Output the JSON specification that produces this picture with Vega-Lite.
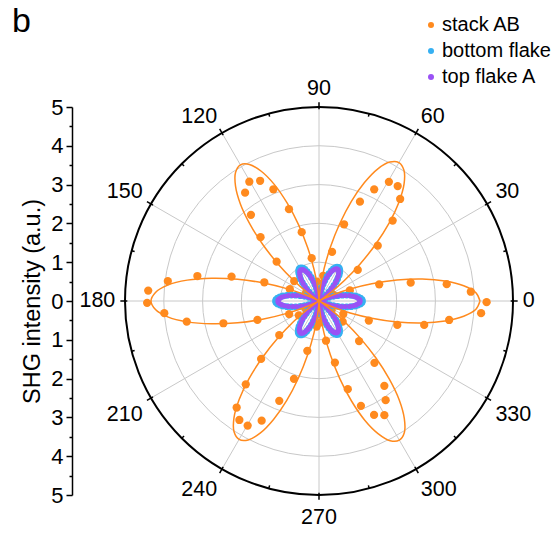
{
 "$schema": "https://vega.github.io/schema/vega-lite/v6.json",
 "width": 388, "height": 388,
 "autosize": {"type": "none"},
 "padding": {"left": 125, "top": 107, "right": 40, "bottom": 42},
 "title": {"text": "b", "anchor": "start", "frame": "group", "fontSize": 34, "fontWeight": "normal", "font": "Liberation Sans", "color": "black", "dx": -113, "offset": 0, "dy": 51, "baseline": "alphabetic"},
 "resolve": {"axis": {"y": "independent"}},
 "config": {"view": {"stroke": null}, "font": "Liberation Sans",
  "axisY": {"tickColor": "black", "tickWidth": 1.5, "domainColor": "black", "domainWidth": 1.5, "labelFontSize": 22, "labelColor": "black", "labelPadding": 3, "labelFont": "Liberation Sans", "labelFlush": false, "labelOverlap": false, "labelBound": false, "titleFontSize": 23.5, "titleFont": "Liberation Sans", "titleFontWeight": "normal", "titleColor": "black", "titlePadding": 6, "grid": false}},
 "datasets": {
  "orangePts": [{"a":331.9,"r":0.71},{"a":338.5,"r":1.38},{"a":343.0,"r":2.11},{"a":347.2,"r":2.78},{"a":351.7,"r":3.39},{"a":355.7,"r":4.19},{"a":359.6,"r":4.32},{"a":3.5,"r":3.92},{"a":7.5,"r":3.32},{"a":11.3,"r":2.41},{"a":15.5,"r":1.61},{"a":18.8,"r":0.84},
   {"a":38.7,"r":1.28},{"a":43.3,"r":2.08},{"a":47.5,"r":2.81},{"a":51.5,"r":3.36},{"a":55.6,"r":3.59},{"a":59.6,"r":3.56},{"a":63.7,"r":3.21},{"a":67.6,"r":2.77},{"a":71.9,"r":2.08},{"a":75.1,"r":1.31},{"a":80.4,"r":0.66},
   {"a":99.7,"r":1.12},{"a":104.1,"r":1.83},{"a":108.1,"r":2.49},{"a":112.2,"r":3.11},{"a":116.1,"r":3.45},{"a":120.3,"r":3.56},{"a":124.3,"r":3.38},{"a":128.3,"r":2.83},{"a":132.5,"r":2.23},{"a":137.1,"r":1.49},{"a":141.3,"r":0.82},
   {"a":158.0,"r":0.81},{"a":161.1,"r":1.49},{"a":164.4,"r":2.34},{"a":168.4,"r":3.20},{"a":172.5,"r":3.93},{"a":176.5,"r":4.41},{"a":180.6,"r":4.43},{"a":184.5,"r":4.00},{"a":188.9,"r":3.45},{"a":193.1,"r":2.53},{"a":197.1,"r":1.66},{"a":203.6,"r":0.84},
   {"a":215.6,"r":0.64},{"a":220.6,"r":1.35},{"a":225.0,"r":2.11},{"a":228.7,"r":2.86},{"a":232.3,"r":3.47},{"a":236.2,"r":3.69},{"a":240.2,"r":3.70},{"a":244.4,"r":3.42},{"a":248.3,"r":2.77},{"a":252.2,"r":2.11},{"a":256.8,"r":1.32},{"a":264.9,"r":0.66},
   {"a":280.0,"r":1.04},{"a":284.5,"r":1.64},{"a":288.1,"r":2.39},{"a":291.8,"r":2.91},{"a":295.8,"r":3.26},{"a":299.8,"r":3.39},{"a":303.9,"r":3.08},{"a":307.6,"r":2.76},{"a":311.9,"r":2.14},{"a":315.0,"r":1.46},{"a":318.9,"r":0.81},
   {"a":23.6,"r":0.4},{"a":33.6,"r":0.35},{"a":85,"r":0.3},{"a":95.6,"r":0.5},{"a":146,"r":0.4},{"a":152,"r":0.3},{"a":208,"r":0.4},{"a":268.6,"r":0.35},{"a":275,"r":0.55},{"a":325,"r":0.4}],
  "fit": [{"a":0,"r":4.15},{"a":3,"r":4.05},{"a":6,"r":3.75},{"a":9,"r":3.29},{"a":12,"r":2.72},{"a":15,"r":2.08},{"a":18,"r":1.43},{"a":21,"r":0.86},{"a":24,"r":0.40},{"a":27,"r":0.10},{"a":30,"r":0},
   {"a":33,"r":0.10},{"a":36,"r":0.39},{"a":39,"r":0.85},{"a":42,"r":1.42},{"a":45,"r":2.06},{"a":48,"r":2.70},{"a":51,"r":3.27},{"a":54,"r":3.73},{"a":57,"r":4.02},{"a":60,"r":4.12},{"a":63,"r":4.02},{"a":66,"r":3.73},{"a":69,"r":3.27},{"a":72,"r":2.70},{"a":75,"r":2.06},{"a":78,"r":1.42},{"a":81,"r":0.85},{"a":84,"r":0.39},{"a":87,"r":0.10},{"a":90,"r":0},
   {"a":93,"r":0.10},{"a":96,"r":0.39},{"a":99,"r":0.83},{"a":102,"r":1.40},{"a":105,"r":2.03},{"a":108,"r":2.65},{"a":111,"r":3.22},{"a":114,"r":3.66},{"a":117,"r":3.95},{"a":120,"r":4.05},{"a":123,"r":3.95},{"a":126,"r":3.66},{"a":129,"r":3.22},{"a":132,"r":2.65},{"a":135,"r":2.03},{"a":138,"r":1.40},{"a":141,"r":0.83},{"a":144,"r":0.39},{"a":147,"r":0.10},{"a":150,"r":0},
   {"a":153,"r":0.11},{"a":156,"r":0.41},{"a":159,"r":0.89},{"a":162,"r":1.50},{"a":165,"r":2.17},{"a":168,"r":2.83},{"a":171,"r":3.44},{"a":174,"r":3.92},{"a":177,"r":4.22},{"a":180,"r":4.33},{"a":183,"r":4.22},{"a":186,"r":3.92},{"a":189,"r":3.44},{"a":192,"r":2.83},{"a":195,"r":2.17},{"a":198,"r":1.50},{"a":201,"r":0.89},{"a":204,"r":0.41},{"a":207,"r":0.11},{"a":210,"r":0},
   {"a":213,"r":0.10},{"a":216,"r":0.39},{"a":219,"r":0.85},{"a":222,"r":1.42},{"a":225,"r":2.06},{"a":228,"r":2.70},{"a":231,"r":3.27},{"a":234,"r":3.73},{"a":237,"r":4.02},{"a":240,"r":4.12},{"a":243,"r":4.02},{"a":246,"r":3.73},{"a":249,"r":3.27},{"a":252,"r":2.70},{"a":255,"r":2.06},{"a":258,"r":1.42},{"a":261,"r":0.85},{"a":264,"r":0.39},{"a":267,"r":0.10},{"a":270,"r":0},
   {"a":273,"r":0.10},{"a":276,"r":0.40},{"a":279,"r":0.85},{"a":282,"r":1.43},{"a":285,"r":2.07},{"a":288,"r":2.71},{"a":291,"r":3.29},{"a":294,"r":3.74},{"a":297,"r":4.04},{"a":300,"r":4.14},{"a":303,"r":4.04},{"a":306,"r":3.74},{"a":309,"r":3.29},{"a":312,"r":2.71},{"a":315,"r":2.07},{"a":318,"r":1.43},{"a":321,"r":0.85},{"a":324,"r":0.40},{"a":327,"r":0.10},{"a":330,"r":0},
   {"a":333,"r":0.10},{"a":336,"r":0.40},{"a":339,"r":0.86},{"a":342,"r":1.43},{"a":345,"r":2.08},{"a":348,"r":2.72},{"a":351,"r":3.29},{"a":354,"r":3.75},{"a":357,"r":4.05},{"a":360,"r":4.15}],
  "blue": [{"a":0,"r":1.12},{"a":2,"r":1.11},{"a":4,"r":1.07},{"a":6,"r":1.01},{"a":8,"r":0.94},{"a":10,"r":0.84},{"a":12,"r":0.73},{"a":14,"r":0.62},{"a":16,"r":0.50},{"a":18,"r":0.39},{"a":20,"r":0.28},{"a":22,"r":0.18},{"a":24,"r":0.11},{"a":26,"r":0.05},{"a":28,"r":0.01},{"a":30,"r":0},
   {"a":32,"r":0.01},{"a":34,"r":0.04},{"a":36,"r":0.10},{"a":38,"r":0.17},{"a":40,"r":0.25},{"a":42,"r":0.35},{"a":44,"r":0.45},{"a":46,"r":0.55},{"a":48,"r":0.66},{"a":50,"r":0.75},{"a":52,"r":0.84},{"a":54,"r":0.91},{"a":56,"r":0.96},{"a":58,"r":0.99},{"a":60,"r":1.00},{"a":62,"r":0.99},{"a":64,"r":0.96},{"a":66,"r":0.91},{"a":68,"r":0.84},{"a":70,"r":0.75},{"a":72,"r":0.66},{"a":74,"r":0.55},{"a":76,"r":0.45},{"a":78,"r":0.35},{"a":80,"r":0.25},{"a":82,"r":0.17},{"a":84,"r":0.10},{"a":86,"r":0.04},{"a":88,"r":0.01},{"a":90,"r":0},
   {"a":92,"r":0.01},{"a":94,"r":0.04},{"a":96,"r":0.09},{"a":98,"r":0.16},{"a":100,"r":0.25},{"a":102,"r":0.34},{"a":104,"r":0.44},{"a":106,"r":0.54},{"a":108,"r":0.64},{"a":110,"r":0.74},{"a":112,"r":0.82},{"a":114,"r":0.89},{"a":116,"r":0.94},{"a":118,"r":0.97},{"a":120,"r":0.98},{"a":122,"r":0.97},{"a":124,"r":0.94},{"a":126,"r":0.89},{"a":128,"r":0.82},{"a":130,"r":0.74},{"a":132,"r":0.64},{"a":134,"r":0.54},{"a":136,"r":0.44},{"a":138,"r":0.34},{"a":140,"r":0.25},{"a":142,"r":0.16},{"a":144,"r":0.09},{"a":146,"r":0.04},{"a":148,"r":0.01},{"a":150,"r":0},
   {"a":152,"r":0.01},{"a":154,"r":0.05},{"a":156,"r":0.11},{"a":158,"r":0.18},{"a":160,"r":0.28},{"a":162,"r":0.39},{"a":164,"r":0.50},{"a":166,"r":0.62},{"a":168,"r":0.73},{"a":170,"r":0.84},{"a":172,"r":0.94},{"a":174,"r":1.01},{"a":176,"r":1.07},{"a":178,"r":1.11},{"a":180,"r":1.12},{"a":182,"r":1.11},{"a":184,"r":1.07},{"a":186,"r":1.01},{"a":188,"r":0.94},{"a":190,"r":0.84},{"a":192,"r":0.73},{"a":194,"r":0.62},{"a":196,"r":0.50},{"a":198,"r":0.39},{"a":200,"r":0.28},{"a":202,"r":0.18},{"a":204,"r":0.11},{"a":206,"r":0.05},{"a":208,"r":0.01},{"a":210,"r":0},
   {"a":212,"r":0.01},{"a":214,"r":0.04},{"a":216,"r":0.10},{"a":218,"r":0.17},{"a":220,"r":0.25},{"a":222,"r":0.35},{"a":224,"r":0.45},{"a":226,"r":0.55},{"a":228,"r":0.66},{"a":230,"r":0.75},{"a":232,"r":0.84},{"a":234,"r":0.91},{"a":236,"r":0.96},{"a":238,"r":0.99},{"a":240,"r":1.00},{"a":242,"r":0.99},{"a":244,"r":0.96},{"a":246,"r":0.91},{"a":248,"r":0.84},{"a":250,"r":0.75},{"a":252,"r":0.66},{"a":254,"r":0.55},{"a":256,"r":0.45},{"a":258,"r":0.35},{"a":260,"r":0.25},{"a":262,"r":0.17},{"a":264,"r":0.10},{"a":266,"r":0.04},{"a":268,"r":0.01},{"a":270,"r":0},
   {"a":272,"r":0.01},{"a":274,"r":0.04},{"a":276,"r":0.10},{"a":278,"r":0.16},{"a":280,"r":0.25},{"a":282,"r":0.34},{"a":284,"r":0.44},{"a":286,"r":0.55},{"a":288,"r":0.65},{"a":290,"r":0.74},{"a":292,"r":0.83},{"a":294,"r":0.90},{"a":296,"r":0.95},{"a":298,"r":0.98},{"a":300,"r":0.99},{"a":302,"r":0.98},{"a":304,"r":0.95},{"a":306,"r":0.90},{"a":308,"r":0.83},{"a":310,"r":0.74},{"a":312,"r":0.65},{"a":314,"r":0.55},{"a":316,"r":0.44},{"a":318,"r":0.34},{"a":320,"r":0.25},{"a":322,"r":0.16},{"a":324,"r":0.10},{"a":326,"r":0.04},{"a":328,"r":0.01},{"a":330,"r":0},
   {"a":332,"r":0.01},{"a":334,"r":0.05},{"a":336,"r":0.11},{"a":338,"r":0.18},{"a":340,"r":0.28},{"a":342,"r":0.39},{"a":344,"r":0.50},{"a":346,"r":0.62},{"a":348,"r":0.73},{"a":350,"r":0.84},{"a":352,"r":0.94},{"a":354,"r":1.01},{"a":356,"r":1.07},{"a":358,"r":1.11}],
  "purple": [{"a":0,"r":1.06},{"a":2,"r":1.05},{"a":4,"r":1.01},{"a":6,"r":0.96},{"a":8,"r":0.89},{"a":10,"r":0.80},{"a":12,"r":0.69},{"a":14,"r":0.59},{"a":16,"r":0.47},{"a":18,"r":0.37},{"a":20,"r":0.27},{"a":22,"r":0.17},{"a":24,"r":0.10},{"a":26,"r":0.05},{"a":28,"r":0.01},{"a":30,"r":0},
   {"a":32,"r":0.01},{"a":34,"r":0.04},{"a":36,"r":0.09},{"a":38,"r":0.16},{"a":40,"r":0.24},{"a":42,"r":0.33},{"a":44,"r":0.43},{"a":46,"r":0.52},{"a":48,"r":0.62},{"a":50,"r":0.71},{"a":52,"r":0.79},{"a":54,"r":0.86},{"a":56,"r":0.91},{"a":58,"r":0.94},{"a":60,"r":0.95},{"a":62,"r":0.94},{"a":64,"r":0.91},{"a":66,"r":0.86},{"a":68,"r":0.79},{"a":70,"r":0.71},{"a":72,"r":0.62},{"a":74,"r":0.52},{"a":76,"r":0.43},{"a":78,"r":0.33},{"a":80,"r":0.24},{"a":82,"r":0.16},{"a":84,"r":0.09},{"a":86,"r":0.04},{"a":88,"r":0.01},{"a":90,"r":0},
   {"a":92,"r":0.01},{"a":94,"r":0.04},{"a":96,"r":0.09},{"a":98,"r":0.15},{"a":100,"r":0.23},{"a":102,"r":0.32},{"a":104,"r":0.42},{"a":106,"r":0.51},{"a":108,"r":0.61},{"a":110,"r":0.70},{"a":112,"r":0.78},{"a":114,"r":0.84},{"a":116,"r":0.89},{"a":118,"r":0.92},{"a":120,"r":0.93},{"a":122,"r":0.92},{"a":124,"r":0.89},{"a":126,"r":0.84},{"a":128,"r":0.78},{"a":130,"r":0.70},{"a":132,"r":0.61},{"a":134,"r":0.51},{"a":136,"r":0.42},{"a":138,"r":0.32},{"a":140,"r":0.23},{"a":142,"r":0.15},{"a":144,"r":0.09},{"a":146,"r":0.04},{"a":148,"r":0.01},{"a":150,"r":0},
   {"a":152,"r":0.01},{"a":154,"r":0.05},{"a":156,"r":0.10},{"a":158,"r":0.17},{"a":160,"r":0.27},{"a":162,"r":0.37},{"a":164,"r":0.47},{"a":166,"r":0.59},{"a":168,"r":0.69},{"a":170,"r":0.80},{"a":172,"r":0.89},{"a":174,"r":0.96},{"a":176,"r":1.01},{"a":178,"r":1.05},{"a":180,"r":1.06},{"a":182,"r":1.05},{"a":184,"r":1.01},{"a":186,"r":0.96},{"a":188,"r":0.89},{"a":190,"r":0.80},{"a":192,"r":0.69},{"a":194,"r":0.59},{"a":196,"r":0.47},{"a":198,"r":0.37},{"a":200,"r":0.27},{"a":202,"r":0.17},{"a":204,"r":0.10},{"a":206,"r":0.05},{"a":208,"r":0.01},{"a":210,"r":0},
   {"a":212,"r":0.01},{"a":214,"r":0.04},{"a":216,"r":0.09},{"a":218,"r":0.16},{"a":220,"r":0.24},{"a":222,"r":0.33},{"a":224,"r":0.43},{"a":226,"r":0.52},{"a":228,"r":0.62},{"a":230,"r":0.71},{"a":232,"r":0.79},{"a":234,"r":0.86},{"a":236,"r":0.91},{"a":238,"r":0.94},{"a":240,"r":0.95},{"a":242,"r":0.94},{"a":244,"r":0.91},{"a":246,"r":0.86},{"a":248,"r":0.79},{"a":250,"r":0.71},{"a":252,"r":0.62},{"a":254,"r":0.52},{"a":256,"r":0.43},{"a":258,"r":0.33},{"a":260,"r":0.24},{"a":262,"r":0.16},{"a":264,"r":0.09},{"a":266,"r":0.04},{"a":268,"r":0.01},{"a":270,"r":0},
   {"a":272,"r":0.01},{"a":274,"r":0.04},{"a":276,"r":0.09},{"a":278,"r":0.16},{"a":280,"r":0.24},{"a":282,"r":0.33},{"a":284,"r":0.42},{"a":286,"r":0.52},{"a":288,"r":0.62},{"a":290,"r":0.71},{"a":292,"r":0.78},{"a":294,"r":0.85},{"a":296,"r":0.90},{"a":298,"r":0.93},{"a":300,"r":0.94},{"a":302,"r":0.93},{"a":304,"r":0.90},{"a":306,"r":0.85},{"a":308,"r":0.78},{"a":310,"r":0.71},{"a":312,"r":0.62},{"a":314,"r":0.52},{"a":316,"r":0.42},{"a":318,"r":0.33},{"a":320,"r":0.24},{"a":322,"r":0.16},{"a":324,"r":0.09},{"a":326,"r":0.04},{"a":328,"r":0.01},{"a":330,"r":0},
   {"a":332,"r":0.01},{"a":334,"r":0.05},{"a":336,"r":0.10},{"a":338,"r":0.17},{"a":340,"r":0.27},{"a":342,"r":0.37},{"a":344,"r":0.47},{"a":346,"r":0.59},{"a":348,"r":0.69},{"a":350,"r":0.80},{"a":352,"r":0.89},{"a":354,"r":0.96},{"a":356,"r":1.01},{"a":358,"r":1.05}]
 },
 "layer": [
  {
   "data": {"values": [{"r": 1}, {"r": 2}, {"r": 3}, {"r": 4}]},
   "mark": {"type": "point", "shape": "circle", "filled": false, "stroke": "#c8c8c8", "strokeWidth": 1, "opacity": 1},
   "encoding": {
    "x": {"datum": 0, "type": "quantitative", "scale": {"domain": [-5, 5], "nice": false, "zero": false}, "axis": null},
    "y": {"datum": 0, "type": "quantitative", "scale": {"domain": [-5, 5], "nice": false, "zero": false}, "axis": {"orient": "left", "offset": 53, "values": [-5,-4,-3,-2,-1,0,1,2,3,4,5], "labelExpr": "format(abs(datum.value),'d')", "tickSize": 6, "title": "SHG intensity (a.u.)"}},
    "size": {"field": "r", "type": "quantitative", "scale": {"type": "pow", "exponent": 2, "domain": [0, 5], "range": [0, 150544]}, "legend": null}
   }
  },
  {
   "data": {"values": [{"angle": 0}, {"angle": 30}, {"angle": 60}, {"angle": 90}, {"angle": 120}, {"angle": 150}, {"angle": 180}, {"angle": 210}, {"angle": 240}, {"angle": 270}, {"angle": 300}, {"angle": 330}]},
   "transform": [
    {"calculate": "0", "as": "x0"},
    {"calculate": "5*cos(datum.angle*PI/180)", "as": "xe"},
    {"calculate": "5*sin(datum.angle*PI/180)", "as": "ye"}
   ],
   "mark": {"type": "rule", "stroke": "#c8c8c8", "strokeWidth": 1},
   "encoding": {
    "x": {"field": "x0", "type": "quantitative", "axis": null},
    "y": {"field": "x0", "type": "quantitative", "axis": {"orient": "left", "offset": 53, "values": [-4.5,-3.5,-2.5,-1.5,-0.5,0.5,1.5,2.5,3.5,4.5], "labels": false, "domain": false, "tickSize": 3, "title": null}},
    "x2": {"field": "xe"},
    "y2": {"field": "ye"}
   }
  },
  {
   "data": {"values": [{"r": 5}]},
   "mark": {"type": "point", "shape": "circle", "filled": false, "stroke": "black", "strokeWidth": 2, "opacity": 1},
   "encoding": {
    "x": {"datum": 0, "type": "quantitative", "axis": null},
    "y": {"datum": 0, "type": "quantitative", "axis": null},
    "size": {"field": "r", "type": "quantitative", "legend": null}
   }
  },
  {
   "data": {"values": [{"angle": 0}, {"angle": 15}, {"angle": 30}, {"angle": 45}, {"angle": 60}, {"angle": 75}, {"angle": 90}, {"angle": 105}, {"angle": 120}, {"angle": 135}, {"angle": 150}, {"angle": 165}, {"angle": 180}, {"angle": 195}, {"angle": 210}, {"angle": 225}, {"angle": 240}, {"angle": 255}, {"angle": 270}, {"angle": 285}, {"angle": 300}, {"angle": 315}, {"angle": 330}, {"angle": 345}]},
   "transform": [
    {"calculate": "datum.angle % 30 == 0 ? 4.94 : 4.92", "as": "r1"},
    {"calculate": "datum.angle % 30 == 0 ? 5.12 : 5.0", "as": "r2"},
    {"calculate": "datum.r1*cos(datum.angle*PI/180)", "as": "x1"},
    {"calculate": "datum.r1*sin(datum.angle*PI/180)", "as": "y1"},
    {"calculate": "datum.r2*cos(datum.angle*PI/180)", "as": "xe"},
    {"calculate": "datum.r2*sin(datum.angle*PI/180)", "as": "ye"}
   ],
   "mark": {"type": "rule", "stroke": "black", "strokeWidth": 1.5},
   "encoding": {
    "x": {"field": "x1", "type": "quantitative", "axis": null},
    "y": {"field": "y1", "type": "quantitative", "axis": null},
    "x2": {"field": "xe"},
    "y2": {"field": "ye"}
   }
  },
  {
   "data": {"name": "orangePts"},
   "transform": [
    {"calculate": "datum.r*cos(datum.a*PI/180)", "as": "px"},
    {"calculate": "datum.r*sin(datum.a*PI/180)", "as": "py"}
   ],
   "mark": {"type": "circle", "size": 68, "opacity": 1},
   "encoding": {
    "x": {"field": "px", "type": "quantitative", "axis": null},
    "y": {"field": "py", "type": "quantitative", "axis": null},
    "color": {"datum": "stack AB", "type": "nominal",
     "scale": {"domain": ["stack AB", "bottom flake", "top flake A"], "range": ["#ff8a1e", "#36b0f2", "#9a52f5"]},
     "legend": {"orient": "none", "legendX": 296, "legendY": -92, "title": null, "padding": 0, "labelFontSize": 20, "labelFont": "Liberation Sans", "labelColor": "black", "symbolSize": 36, "symbolType": "circle", "rowPadding": 6, "labelOffset": 1}}
   }
  },
  {
   "data": {"name": "blue"},
   "transform": [
    {"calculate": "datum.r*cos(datum.a*PI/180)", "as": "px"},
    {"calculate": "datum.r*sin(datum.a*PI/180)", "as": "py"}
   ],
   "mark": {"type": "circle", "size": 45, "opacity": 1},
   "encoding": {
    "x": {"field": "px", "type": "quantitative", "axis": null},
    "y": {"field": "py", "type": "quantitative", "axis": null},
    "color": {"datum": "bottom flake", "type": "nominal"}
   }
  },
  {
   "data": {"name": "purple"},
   "transform": [
    {"calculate": "datum.r*cos(datum.a*PI/180)", "as": "px"},
    {"calculate": "datum.r*sin(datum.a*PI/180)", "as": "py"}
   ],
   "mark": {"type": "circle", "size": 26, "opacity": 1},
   "encoding": {
    "x": {"field": "px", "type": "quantitative", "axis": null},
    "y": {"field": "py", "type": "quantitative", "axis": null},
    "color": {"datum": "top flake A", "type": "nominal"}
   }
  },
  {
   "data": {"name": "fit"},
   "transform": [
    {"calculate": "datum.r*cos(datum.a*PI/180)", "as": "px"},
    {"calculate": "datum.r*sin(datum.a*PI/180)", "as": "py"}
   ],
   "mark": {"type": "line", "color": "#ff8a1e", "strokeWidth": 1.5, "interpolate": "catmull-rom"},
   "encoding": {
    "x": {"field": "px", "type": "quantitative", "axis": null},
    "y": {"field": "py", "type": "quantitative", "axis": null},
    "order": {"field": "a", "type": "quantitative"}
   }
  },
  {
   "data": {"values": [{"angle": 0, "label": "0"}, {"angle": 30, "label": "30"}, {"angle": 60, "label": "60"}, {"angle": 90, "label": "90"}, {"angle": 120, "label": "120"}, {"angle": 150, "label": "150"}, {"angle": 180, "label": "180"}, {"angle": 210, "label": "210"}, {"angle": 240, "label": "240"}, {"angle": 270, "label": "270"}, {"angle": 300, "label": "300"}, {"angle": 330, "label": "330"}]},
   "transform": [
    {"calculate": "5.25*cos(datum.angle*PI/180)", "as": "lx"},
    {"calculate": "5.31*sin(datum.angle*PI/180)", "as": "ly"}
   ],
   "mark": {"type": "text", "fontSize": 21.5, "font": "Liberation Sans", "color": "black",
    "align": {"expr": "abs(cos(datum.angle*PI/180)) < 0.01 ? 'center' : (cos(datum.angle*PI/180) > 0 ? 'left' : 'right')"},
    "baseline": {"expr": "abs(sin(datum.angle*PI/180)) < 0.01 ? 'middle' : (sin(datum.angle*PI/180) > 0 ? 'alphabetic' : 'top')"}},
   "encoding": {
    "x": {"field": "lx", "type": "quantitative", "axis": null},
    "y": {"field": "ly", "type": "quantitative", "axis": null},
    "text": {"field": "label"}
   }
  }
 ]
}
